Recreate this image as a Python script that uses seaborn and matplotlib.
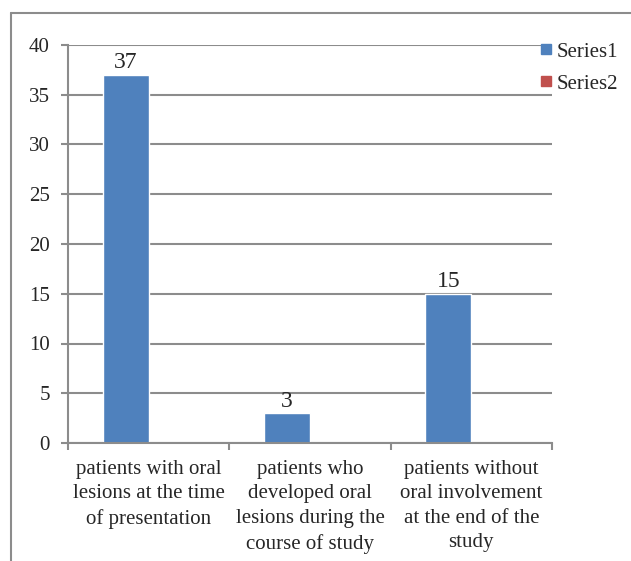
import matplotlib
matplotlib.use("Agg")
import matplotlib.pyplot as plt
import seaborn as sns
import pandas as pd
from matplotlib.lines import Line2D

# chart values
categories = [
    "patients with oral\nlesions at the time\nof presentation",
    "patients who\ndeveloped oral\nlesions during the\ncourse of study",
    "patients without\noral involvement\nat the end of the\nstudy",
]
series1 = [37, 3, 15]
series2 = [0, 0, 0]
series_names = ["Series1", "Series2"]
y_ticks = [0, 5, 10, 15, 20, 25, 30, 35, 40]

sns.set_style("white")
plt.rcParams["font.family"] = ["Liberation Serif", "DejaVu Serif"]

df = pd.DataFrame({
    "category": categories * 2,
    "value": series1 + series2,
    "series": [series_names[0]] * 3 + [series_names[1]] * 3,
})

fig = plt.figure(figsize=(6.31, 5.61), dpi=100)
ax = fig.add_axes([68 / 631, 1 - 443 / 561, (552 - 68) / 631, (443 - 45) / 561])

sns.barplot(data=df, x="category", y="value", hue="series",
            palette=["#4F81BD", "#C0504D"], width=0.57, saturation=1,
            ax=ax, legend=False)

ax.set_xlim(-0.5, 2.5)
ax.set_ylim(0, 40)
ax.set_yticks(y_ticks)
ax.set_xlabel("")
ax.set_ylabel("")

grid_col = "#8c8c8c"
ax.yaxis.grid(True, color=grid_col, linewidth=1.5)
ax.set_axisbelow(True)
for side in ["top", "right"]:
    ax.spines[side].set_visible(False)
for side in ["left", "bottom"]:
    ax.spines[side].set_color(grid_col)
    ax.spines[side].set_linewidth(1.5)

ax.tick_params(axis="y", length=5, width=1.5, color=grid_col, pad=8,
               labelsize=15, left=True, direction="out")
# category boundary ticks on x axis
ax.set_xticks([0, 1, 2])
ax.set_xticks([-0.5, 0.5, 1.5, 2.5], minor=True)
ax.tick_params(axis="x", which="major", length=0, pad=12, labelsize=15)
ax.tick_params(axis="x", which="minor", length=5, width=1.5, color=grid_col,
               bottom=True, direction="out")
for lab in ax.get_xticklabels():
    lab.set_linespacing(1.4)
    lab.set_verticalalignment("top")

ax.bar_label(ax.containers[0], fontsize=17, padding=1)

handles = [Line2D([], [], marker="s", linestyle="", markersize=7,
                  color=c) for c in ["#4F81BD", "#C0504D"]]
fig.legend(handles, series_names, loc="upper left",
           bbox_to_anchor=(540 / 631, 1 - 42 / 561), frameon=False,
           fontsize=15, handlelength=0.6, handletextpad=0.2,
           labelspacing=0.6, borderaxespad=0, borderpad=0)

# outer chart border (cut off at right and bottom)
fig.add_artist(Line2D([11 / 631, 1.0], [1 - 13 / 561, 1 - 13 / 561],
                      color="#8c8c8c", linewidth=1.5))
fig.add_artist(Line2D([11 / 631, 11 / 631], [0, 1 - 13 / 561],
                      color="#8c8c8c", linewidth=1.5))

fig.savefig("out.png", dpi=100)
plt.close(fig)
